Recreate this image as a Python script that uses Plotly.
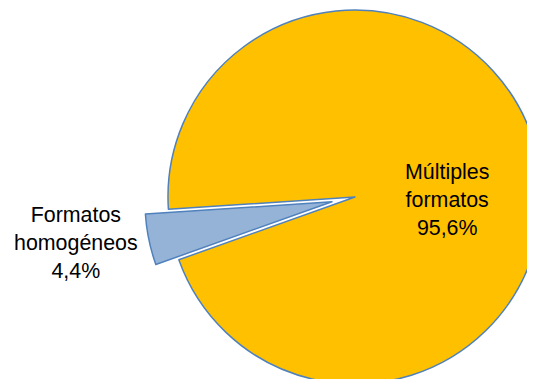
import math
import plotly.graph_objects as go

# Data
labels = ["Formatos homogéneos", "Múltiples formatos"]
values = [4.4, 95.6]
value_text = ["4,4%", "95,6%"]

# Styling
colors = ["#95B3D7", "#FFC000"]
border = "#4F81BD"
transparent = "rgba(0,0,0,0)"

OFF = 8            # page body margin offset
W, H = 560, 400    # canvas larger than the window: the original chart is cropped
R = 187.0          # pie radius in px
CX, CY = 355.0 - OFF, 197.0 - OFF  # pie centre in px (from top-left of figure)
PULL = 23.5        # pull-out distance of the small slice in px
ROT = 250.4        # start angle (clockwise from 12 o'clock)

small_frac = values[0] / sum(values)
bis = math.radians(ROT + 360 * small_frac / 2)
BX = CX + PULL * math.sin(bis)
BY = CY - PULL * math.cos(bis)


def domain(cx, cy):
    return dict(
        x=[max(0, (cx - R) / W), min(1, (cx + R) / W)],
        y=[max(0, 1 - (cy + R) / H), min(1, 1 - (cy - R) / H)],
    )

fig = go.Figure()
# main pie: large slice visible, small slice left as a gap
fig.add_trace(go.Pie(
    labels=labels, values=values, sort=False, direction="clockwise", rotation=ROT,
    marker=dict(colors=[transparent, colors[1]],
                line=dict(color=[transparent, border], width=[0, 1.5])),
    textinfo="none", hoverinfo="label+percent", showlegend=False,
    domain=domain(CX, CY),
))
# exploded small slice
fig.add_trace(go.Pie(
    labels=labels, values=values, sort=False, direction="clockwise", rotation=ROT,
    marker=dict(colors=[colors[0], transparent],
                line=dict(color=[border, transparent], width=[1.5, 0])),
    textinfo="none", hoverinfo="label+percent", showlegend=False,
    domain=domain(BX, BY),
))

font = dict(family="Liberation Sans, Arial, sans-serif", size=21.4, color="black")
fig.add_annotation(x=(76 - OFF) / W, y=1 - (243 - OFF) / H, xref="paper", yref="paper",
                   text="Formatos<br>homogéneos<br>" + value_text[0],
                   showarrow=False, font=font, xanchor="center", yanchor="middle")
fig.add_annotation(x=(447 - OFF) / W, y=1 - (200 - OFF) / H, xref="paper", yref="paper",
                   text="Múltiples<br>formatos<br>" + value_text[1],
                   showarrow=False, font=font, xanchor="center", yanchor="middle")

fig.update_layout(width=W, height=H, margin=dict(l=0, r=0, t=0, b=0),
                  paper_bgcolor="white", plot_bgcolor="white", showlegend=False)
fig.write_html("out.html")
